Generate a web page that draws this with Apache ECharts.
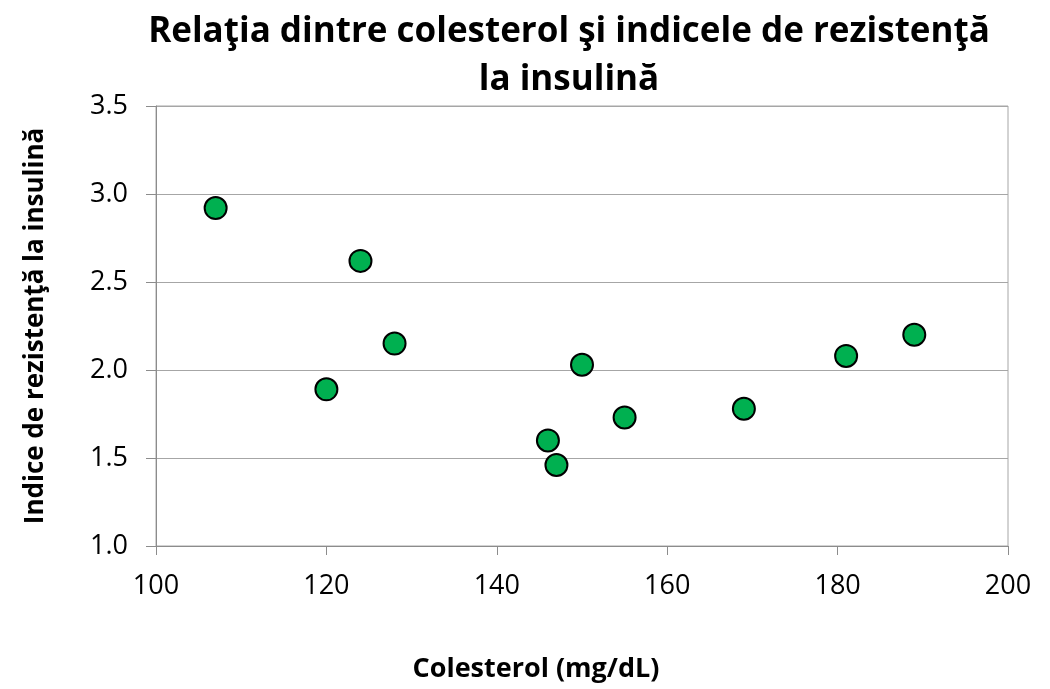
<!DOCTYPE html>
<html>
<head>
<meta charset="utf-8">
<title>Relaţia dintre colesterol şi indicele de rezistenţă la insulină</title>
<script src="https://cdn.jsdelivr.net/npm/echarts@6/dist/echarts.min.js"></script>
<style>
    html, body { margin: 0; padding: 0; background: #fff; }
    #chart { width: 1050px; height: 689px; }
</style>
</head>
<body>
<div id="chart"></div>
<script>
// Date
const colesterol = [107, 124, 128, 120, 146, 147, 150, 155, 169, 181, 189];
const indiceRezistenta = [2.92, 2.62, 2.15, 1.89, 1.60, 1.46, 2.03, 1.73, 1.78, 2.08, 2.20];

const X_MIN = 100, X_MAX = 200, X_STEP = 20;
const Y_MIN = 1.0, Y_MAX = 3.5, Y_STEP = 0.5;

const FONT = '"Open Sans", "Noto Sans", sans-serif';
const AXIS_GREY = '#8c8c8c';
const GRID_GREY = '#a6a6a6';

const points = colesterol.map((x, i) => [x, indiceRezistenta[i]]);

const chart = echarts.init(document.getElementById('chart'));

const option = {
    animation: false,
    backgroundColor: '#fff',
    title: {
        text: 'Relaţia dintre colesterol şi indicele de rezistenţă\nla insulină',
        left: 564,
        top: 3,
        textAlign: 'center',
        textStyle: {
            fontFamily: FONT,
            fontWeight: 'bold',
            fontSize: 35,
            lineHeight: 48,
            color: '#000'
        }
    },
    grid: {
        left: 156,
        right: 42,
        top: 106,
        bottom: 143,
        show: true,
        borderColor: GRID_GREY,
        borderWidth: 1
    },
    xAxis: {
        type: 'value',
        min: X_MIN,
        max: X_MAX,
        interval: X_STEP,
        name: 'Colesterol (mg/dL)',
        nameLocation: 'middle',
        nameGap: 110,
        nameTextStyle: {
            fontFamily: FONT,
            fontWeight: 'bold',
            fontSize: 27,
            color: '#000',
            padding: [0, 92, 0, 0]
        },
        axisLine: { show: true, lineStyle: { color: AXIS_GREY, width: 1 } },
        axisTick: { show: true, length: 9, lineStyle: { color: AXIS_GREY } },
        axisLabel: {
            fontFamily: FONT,
            fontSize: 27,
            color: '#000',
            margin: 27
        },
        splitLine: { show: false }
    },
    yAxis: {
        type: 'value',
        min: Y_MIN,
        max: Y_MAX,
        interval: Y_STEP,
        name: 'Indice de rezistenţă la insulină',
        nameLocation: 'middle',
        nameGap: 107,
        nameTextStyle: {
            fontFamily: FONT,
            fontWeight: 'bold',
            fontSize: 26,
            color: '#000'
        },
        axisLine: { show: true, lineStyle: { color: AXIS_GREY, width: 1 } },
        axisTick: { show: true, length: 10, lineStyle: { color: AXIS_GREY } },
        axisLabel: {
            fontFamily: FONT,
            fontSize: 27,
            color: '#000',
            margin: 28,
            formatter: v => v.toFixed(1)
        },
        splitLine: { show: true, lineStyle: { color: GRID_GREY, width: 1 } }
    },
    series: [{
        type: 'scatter',
        data: points,
        symbol: 'circle',
        symbolSize: 22,
        itemStyle: {
            color: '#00b050',
            borderColor: '#000',
            borderWidth: 2,
            opacity: 1
        }
    }]
};

chart.setOption(option);
window.addEventListener('resize', () => chart.resize());
</script>
</body>
</html>
